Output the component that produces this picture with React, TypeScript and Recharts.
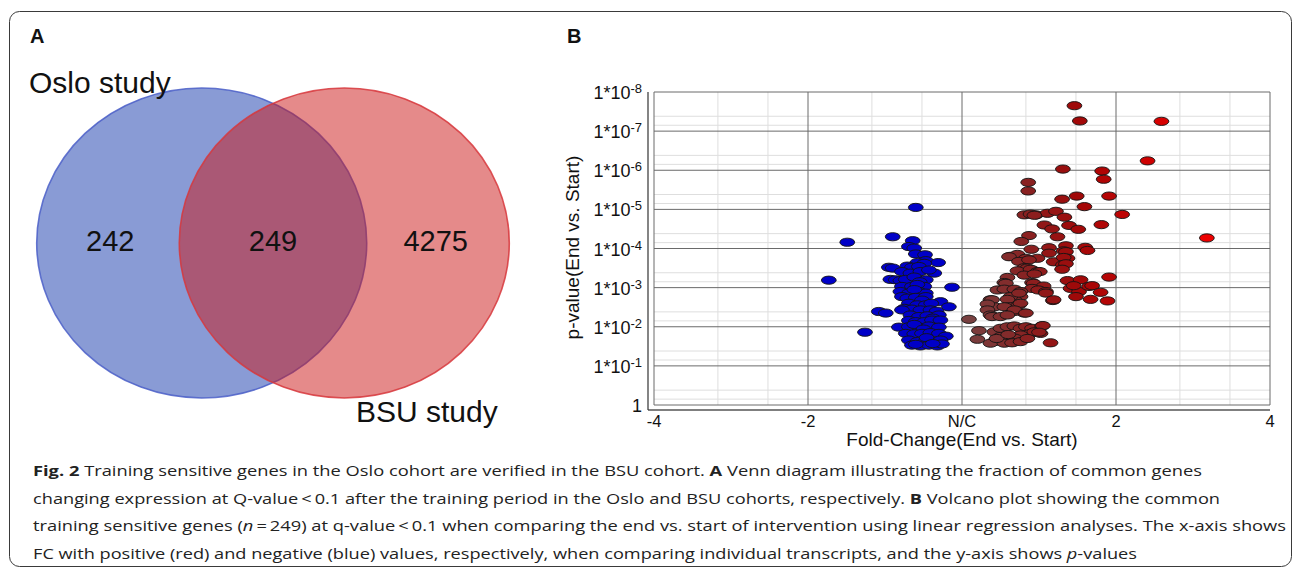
import { ScatterChart, Scatter, XAxis, YAxis, ReferenceLine } from 'recharts'

const FONT = '"Liberation Sans", Arial, Helvetica, sans-serif'
const CAPTION_FONT = '"Open Sans", "Noto Sans", sans-serif'

// ---- panel A: Venn
const vennSetNames = ['Oslo study', 'BSU study']
const vennCounts = [242, 249, 4275] // Oslo only, shared, BSU only

// ---- panel B: volcano
const fcTicks = [-4, -2, 0, 2, 4]
const fcTickLabels = ['-4', '-2', 'N/C', '2', '4']
const pExponents = [0, 1, 2, 3, 4, 5, 6, 7, 8] // p = 10^-k

// [fold change, -log10(p)]
const downRegulated: [number, number][] = [
  [-0.60, 5.05], [-0.90, 4.30], [-1.49, 4.16], [-0.64, 4.20], [-0.69, 4.05], [-0.62, 4.01],
  [-0.60, 3.86], [-0.48, 3.84], [-0.47, 3.69], [-0.31, 3.64], [-0.58, 3.64], [-0.49, 3.62],
  [-0.71, 3.55], [-0.65, 3.52], [-0.56, 3.54], [-0.95, 3.52], [-0.90, 3.50], [-0.78, 3.41],
  [-0.67, 3.37], [-0.54, 3.41], [-0.36, 3.37], [-0.43, 3.45], [-1.73, 3.19], [-0.93, 3.21],
  [-0.86, 3.20], [-0.80, 3.18], [-0.73, 3.21], [-0.62, 3.27], [-0.47, 3.20], [-0.55, 3.15],
  [-0.13, 3.01], [-0.78, 3.03], [-0.65, 3.03], [-0.49, 3.03], [-0.58, 3.08], [-0.80, 2.90],
  [-0.69, 2.86], [-0.56, 2.90], [-0.47, 2.86], [-0.62, 2.95], [-0.78, 2.77], [-0.71, 2.73],
  [-0.60, 2.75], [-0.47, 2.77], [-0.52, 2.68], [-0.28, 2.64], [-0.69, 2.60], [-0.58, 2.56],
  [-0.47, 2.56], [-0.40, 2.60], [-0.17, 2.51], [-0.75, 2.47], [-0.65, 2.45], [-0.54, 2.43],
  [-0.41, 2.43], [-0.33, 2.40], [-1.08, 2.39], [-0.99, 2.35], [-0.78, 2.43], [-0.67, 2.30],
  [-0.56, 2.26], [-0.45, 2.28], [-0.30, 2.30], [-0.38, 2.22], [-0.69, 2.16], [-0.60, 2.13],
  [-0.49, 2.13], [-0.39, 2.17], [-0.28, 2.17], [-0.82, 1.99], [-0.69, 2.00], [-0.56, 1.99],
  [-0.43, 2.02], [-0.30, 1.99], [-0.62, 2.06], [-0.50, 1.94], [-1.26, 1.86], [-0.73, 1.83],
  [-0.62, 1.82], [-0.52, 1.83], [-0.41, 1.85], [-0.30, 1.83], [-0.21, 1.76], [-0.69, 1.66],
  [-0.58, 1.62], [-0.47, 1.64], [-0.36, 1.62], [-0.28, 1.66], [-0.46, 1.72], [-0.65, 1.53],
  [-0.54, 1.51], [-0.43, 1.53], [-0.32, 1.51], [-0.26, 1.56], [-0.60, 1.55], [-0.38, 1.57],
]

const upRegulated: [number, number][] = [
  [1.46, 7.65], [1.53, 7.26], [2.59, 7.25], [2.41, 6.24], [1.31, 6.03], [1.82, 5.98],
  [1.84, 5.77], [0.86, 5.69], [0.86, 5.47], [1.30, 5.26], [1.49, 5.34], [1.91, 5.34],
  [1.59, 5.07], [2.08, 4.87], [1.81, 4.61], [3.18, 4.27],
  [0.81, 4.86], [0.89, 4.88], [0.96, 4.86], [1.11, 4.90], [1.22, 4.95], [1.33, 4.80], [0.94, 4.85],
  [1.07, 4.60], [1.17, 4.50], [1.39, 4.59], [1.51, 4.49], [0.87, 4.33], [1.24, 4.30], [0.77, 4.18],
  [0.90, 3.98], [1.13, 4.02], [1.35, 4.07], [1.32, 3.94], [1.60, 4.03], [1.63, 3.95], [1.13, 3.88],
  [1.35, 3.92], [0.63, 3.80], [0.72, 3.85], [0.61, 3.79], [0.83, 3.75], [0.98, 3.75], [0.74, 3.67],
  [1.19, 3.66], [1.37, 3.75], [1.32, 3.77], [1.31, 3.58], [1.35, 3.61], [1.30, 3.47], [0.87, 3.71],
  [0.81, 3.51], [0.85, 3.50], [0.91, 3.45], [0.72, 3.43], [0.89, 3.47], [0.98, 3.41], [1.01, 3.41],
  [0.81, 3.32], [0.94, 3.35], [0.59, 3.26], [0.55, 3.13], [0.57, 3.11], [0.91, 3.13], [0.93, 3.11],
  [1.06, 3.04], [0.91, 2.98], [0.99, 2.94], [1.09, 2.90], [1.09, 2.86], [1.18, 2.67],
  [1.37, 3.18], [1.54, 3.20], [1.41, 2.98], [1.52, 2.90], [1.65, 3.03], [1.67, 2.70], [1.48, 2.77],
  [1.19, 2.69], [1.91, 3.27], [1.69, 3.05], [1.80, 2.88], [1.89, 2.66], [1.45, 3.05],
  [0.46, 2.94], [0.55, 2.96], [0.68, 2.96], [0.76, 2.90], [0.76, 2.77], [0.68, 2.69], [0.63, 2.77],
  [0.74, 2.86], [0.37, 2.69], [0.39, 2.69], [0.42, 2.51], [0.33, 2.58], [0.59, 2.70], [0.61, 2.51],
  [0.55, 2.51], [0.74, 2.56], [0.76, 2.60], [0.81, 2.35], [0.68, 2.39], [0.68, 2.43], [0.83, 2.35],
  [0.33, 2.43], [0.37, 2.30], [0.39, 2.26], [0.50, 2.26], [0.59, 2.30],
  [0.09, 2.19], [0.22, 1.90], [0.20, 1.68],
  [0.42, 1.87], [0.50, 1.96], [0.59, 2.00], [0.68, 2.02], [0.76, 1.96], [0.83, 2.00], [0.91, 1.96],
  [0.98, 1.87], [1.04, 2.02], [1.02, 1.83], [0.89, 1.83], [0.76, 1.79], [0.68, 1.71], [0.59, 1.66],
  [0.50, 1.75], [0.42, 1.62], [0.37, 1.58], [0.55, 1.58], [0.65, 1.59], [0.76, 1.62], [0.94, 1.87],
  [1.15, 1.59], [1.05, 2.03], [1.00, 1.86], [0.45, 1.70], [0.60, 1.80], [0.85, 1.70],
]

// red shade by fold change (dull brown near N/C -> bright red far out)
const redStops: [number, number, number, number][] = [
  [0.1, 120, 64, 64],
  [0.8, 135, 35, 35],
  [1.5, 160, 8, 8],
  [2.5, 210, 0, 0],
  [3.2, 238, 0, 0],
]
function redFor(fc: number) {
  if (fc <= redStops[0][0]) return `rgb(${redStops[0].slice(1).join(',')})`
  for (let i = 1; i < redStops.length; i++) {
    const a = redStops[i - 1]
    const b = redStops[i]
    if (fc <= b[0]) {
      const t = (fc - a[0]) / (b[0] - a[0])
      const c = [1, 2, 3].map((j) => Math.round(a[j] + (b[j] - a[j]) * t))
      return `rgb(${c.join(',')})`
    }
  }
  const last = redStops[redStops.length - 1]
  return `rgb(${last.slice(1).join(',')})`
}

function Dot(props: any) {
  const { cx, cy } = props
  const fc = props.payload?.fc ?? props.fc
  if (cx == null || cy == null) return null
  return (
    <ellipse
      cx={cx}
      cy={cy}
      rx={7.4}
      ry={4.1}
      fill={fc < 0 ? '#0000c8' : redFor(fc)}
      stroke="#141414"
      strokeWidth={0.9}
    />
  )
}

function PTick(props: any) {
  const { x, y, payload } = props
  const k = payload.value
  return (
    <text x={x} y={y + 7} textAnchor="end" fontSize={18} fontFamily={FONT} fill="#111">
      {k === 0 ? '1' : '1*10'}
      {k !== 0 && (
        <tspan fontSize={13} dy={-6}>
          {`-${k}`}
        </tspan>
      )}
    </text>
  )
}

function FcTick(props: any) {
  const { x, y, payload } = props
  const i = fcTicks.indexOf(payload.value)
  return (
    <text x={x} y={y} dy="0.72em" textAnchor="middle" fontSize={16.5} fontFamily={FONT} fill="#111">
      {fcTickLabels[i]}
    </text>
  )
}

function XTitle(props: any) {
  const vb = props.viewBox ?? { x: 88, y: 330, width: 622, height: 40 }
  return (
    <text
      x={vb.x + 6 + (vb.width - 6) / 2}
      y={vb.y + 36}
      textAnchor="middle"
      fontSize={19}
      fontFamily={FONT}
      fill="#111"
    >
      Fold-Change(End vs. Start)
    </text>
  )
}

function YTitle(props: any) {
  const vb = props.viewBox ?? { x: 0, y: 12, width: 88, height: 318 }
  const cx = vb.x + 12
  const cy = vb.y + vb.height / 2 - 3.5
  return (
    <text
      x={cx}
      y={cy}
      dy="0.36em"
      transform={`rotate(-90, ${cx}, ${cy})`}
      textAnchor="middle"
      fontSize={19}
      fontFamily={FONT}
      fill="#111"
    >
      p-value(End vs. Start)
    </text>
  )
}

// grid layout (offsets within each major interval)
const minorFcOffsets = [0.83, 1.48]
const minorDecadeOffsets = [0.15, 0.38]

function Volcano() {
  const down = downRegulated.map(([fc, logp]) => ({ fc, logp }))
  const up = upRegulated.map(([fc, logp]) => ({ fc, logp }))
  const minorV = fcTicks.slice(0, -1).flatMap((t) => minorFcOffsets.map((o) => t + o))
  const minorH = pExponents.slice(0, -1).flatMap((k) => minorDecadeOffsets.map((o) => k + o))
  return (
    <ScatterChart width={730} height={380} margin={{ top: 12, right: 20, bottom: 10, left: 0 }}>
      <XAxis
        type="number"
        dataKey="fc"
        domain={[-4, 4]}
        ticks={fcTicks}
        interval={0}
        padding={{ left: 6, right: 0 }}
        height={40}
        tickLine={false}
        tickSize={0}
        tickMargin={5}
        axisLine={{ stroke: '#555', strokeWidth: 1.5 }}
        tick={<FcTick />}
        label={<XTitle />}
      />
      <YAxis
        type="number"
        dataKey="logp"
        domain={[0, 8]}
        ticks={pExponents}
        interval={0}
        padding={{ top: 0, bottom: 5 }}
        width={88}
        tickLine={false}
        tickSize={0}
        tickMargin={6}
        axisLine={{ stroke: '#333', strokeWidth: 1.2 }}
        tick={<PTick />}
        label={<YTitle />}
      />
      {minorV.map((v) => (
        <ReferenceLine key={`mv${v}`} segment={[{ x: v, y: 0 }, { x: v, y: 8 }]} stroke="#dedede" strokeWidth={1} />
      ))}
      {minorH.map((v) => (
        <ReferenceLine key={`mh${v}`} segment={[{ x: -4, y: v }, { x: 4, y: v }]} stroke="#dedede" strokeWidth={1} />
      ))}
      {fcTicks.map((v) => (
        <ReferenceLine key={`v${v}`} segment={[{ x: v, y: 0 }, { x: v, y: 8 }]} stroke="#6a6a6a" strokeWidth={1} />
      ))}
      {pExponents.map((v) => (
        <ReferenceLine key={`h${v}`} segment={[{ x: -4, y: v }, { x: 4, y: v }]} stroke="#6a6a6a" strokeWidth={1} />
      ))}
      <Scatter data={down} shape={<Dot />} isAnimationActive={false} />
      <Scatter data={up} shape={<Dot />} isAnimationActive={false} />
    </ScatterChart>
  )
}

// Venn layout: one unit = one set radius
const VENN_W = 546
const VENN_H = 486
const VX = 1.6545
const VY = 1.5677
const UNIT_X = VENN_W / (2 * VX)
const UNIT_Y = VENN_H / (2 * VY)
const setCentres = [-0.432, 0.432]
const setNameAnchors = [
  [-1.479, 0.968],
  [0.503, -1.155],
]
const countAnchors = [-0.986, 0, 0.986]
const setStyles = [
  { fill: 'rgb(19,55,171)', stroke: 'rgb(75,95,200)' },
  { fill: 'rgb(203,21,21)', stroke: 'rgb(215,55,60)' },
]

function Venn() {
  const sets = vennSetNames.map((name, i) => ({ x: setCentres[i], y: 0, name, idx: i }))
  const names = vennSetNames.map((name, i) => ({ x: setNameAnchors[i][0], y: setNameAnchors[i][1], name }))
  const counts = vennCounts.map((n, i) => ({ x: countAnchors[i], y: 0, label: String(n) }))
  return (
    <ScatterChart width={VENN_W} height={VENN_H} margin={{ top: 0, right: 0, bottom: 0, left: 0 }}>
      <XAxis type="number" dataKey="x" domain={[-VX, VX]} hide />
      <YAxis type="number" dataKey="y" domain={[-VY, VY]} hide />
      <Scatter
        data={sets}
        isAnimationActive={false}
        shape={(p: any) => {
          const s = setStyles[(p.payload ?? p).idx]
          return (
            <ellipse
              cx={p.cx}
              cy={p.cy}
              rx={UNIT_X}
              ry={UNIT_Y}
              fill={s.fill}
              fillOpacity={0.5}
              stroke={s.stroke}
              strokeOpacity={0.85}
              strokeWidth={1.6}
            />
          )
        }}
      />
      <Scatter
        data={counts}
        isAnimationActive={false}
        shape={(p: any) => (
          <text x={p.cx} y={p.cy + 8} textAnchor="middle" fontSize={29} fontFamily={FONT} fill="#111">
            {(p.payload ?? p).label}
          </text>
        )}
      />
      <Scatter
        data={names}
        isAnimationActive={false}
        shape={(p: any) => (
          <text x={p.cx} y={p.cy} textAnchor="start" fontSize={30} fontFamily={FONT} fill="#111">
            {(p.payload ?? p).name}
          </text>
        )}
      />
    </ScatterChart>
  )
}

function Caption() {
  const common = { fontSize: 15, fontFamily: CAPTION_FONT, fill: '#222', lengthAdjust: 'spacingAndGlyphs' as const }
  return (
    <g>
      <text x={33} y={476} textLength={1169} {...common}>
        <tspan fontWeight="bold">Fig. 2</tspan>
        {'  Training sensitive genes in the Oslo cohort are verified in the BSU cohort. '}
        <tspan fontWeight="bold">A</tspan>
        {' Venn diagram illustrating the fraction of common genes'}
      </text>
      <text x={33} y={503.5} textLength={1187} {...common}>
        {'changing expression at Q-value\u2009<\u20090.1 after the training period in the Oslo and BSU cohorts, respectively. '}
        <tspan fontWeight="bold">B</tspan>
        {' Volcano plot showing the common'}
      </text>
      <text x={33} y={531} textLength={1253} {...common}>
        {'training sensitive genes ('}
        <tspan fontStyle="italic">n</tspan>
        {'\u2009=\u2009249) at q-value\u2009<\u20090.1 when comparing the end vs. start of intervention using linear regression analyses. The x-axis shows'}
      </text>
      <text x={33} y={558.5} textLength={1104} {...common}>
        {'FC with positive (red) and negative (blue) values, respectively, when comparing individual transcripts, and the y-axis shows '}
        <tspan fontStyle="italic">p</tspan>
        {'-values'}
      </text>
    </g>
  )
}

export default function App() {
  return (
    <div style={{ position: 'absolute', left: 0, top: 0, width: 1295, height: 571, background: '#fff' }}>
      <svg width={1295} height={571} style={{ position: 'absolute', left: 0, top: 0 }}>
        <rect x={9.5} y={11.5} width={1282} height={555} rx={10} fill="none" stroke="#3a3a3a" strokeWidth={1} />
        <text x={30} y={43} fontSize={20} fontWeight="bold" fontFamily={FONT} fill="#111">
          A
        </text>
        <text x={567} y={43} fontSize={20} fontWeight="bold" fontFamily={FONT} fill="#111">
          B
        </text>
        <Caption />
      </svg>
      <div style={{ position: 'absolute', left: 0, top: 0 }}>
        <Venn />
      </div>
      <div style={{ position: 'absolute', left: 560, top: 80 }}>
        <Volcano />
      </div>
    </div>
  )
}
